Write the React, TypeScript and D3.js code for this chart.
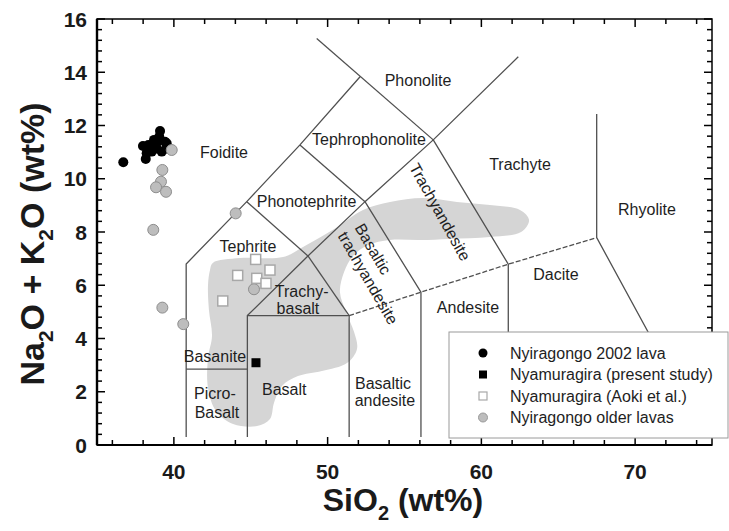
import React, { useEffect, useRef } from 'react';
import * as d3 from 'd3';

type Pt = [number, number];

// TAS field boundaries [SiO2, Na2O+K2O]
const solidLines: Pt[][] = [
  [[40.8, 0.3], [40.8, 6.8], [44.74, 9.14], [48.2, 11.27], [52.11, 13.83]],
  [[49.29, 15.27], [56.87, 11.46]],
  [[40.8, 2.85], [44.78, 2.85]],
  [[44.78, 0.3], [44.78, 4.86], [48.72, 7.1], [52.43, 9.14], [56.87, 11.46], [62.4, 14.58]],
  [[44.78, 4.86], [51.4, 4.86], [51.4, 0.3]],
  [[48.72, 7.1], [51.4, 4.86]],
  [[44.74, 9.14], [48.72, 7.1]],
  [[48.2, 11.27], [52.43, 9.14]],
  [[52.43, 9.14], [56.07, 5.74], [56.07, 0.3]],
  [[56.87, 11.46], [61.75, 6.79], [61.75, 0.3]],
  [[67.5, 12.43], [67.5, 7.79], [74.56, 0.3]],
];
const dashedLine: Pt[] = [[51.4, 4.86], [56.07, 5.74], [61.75, 6.79], [67.5, 7.79]];

// grey field outline
const greyField: Pt[] = [
  [42.53, 6.84], [44.3, 7.02], [47.1, 7.06], [48.4, 7.44], [50.35, 8.08], [52.3, 8.83],
  [54.06, 9.13], [56.2, 9.28], [58.41, 9.13], [60.56, 9.01], [62.51, 8.83], [63.1, 8.45],
  [62.58, 8.0], [60.56, 7.81], [57.96, 7.74], [56.01, 7.7], [54.06, 7.7], [52.63, 7.51],
  [51.65, 7.1], [51.07, 6.5], [50.8, 5.75], [51.2, 5.0], [51.72, 4.24], [51.91, 3.61],
  [51.26, 3.08], [49.63, 2.78], [48.07, 2.59], [47.03, 2.22], [46.51, 1.58], [46.25, 0.98],
  [45.41, 0.71], [43.85, 0.79], [42.74, 1.28], [42.22, 2.14], [42.22, 3.27], [42.48, 4.09],
  [42.28, 5.07], [42.22, 6.01], [42.35, 6.57],
];

// field names: [text, SiO2, alkali, rotation]
const fieldLabels: [string, number, number, number][] = [
  ['Foidite', 43.26, 10.98, 0],
  ['Phonolite', 55.88, 13.68, 0],
  ['Tephrophonolite', 52.69, 11.46, 0],
  ['Phonotephrite', 48.63, 9.16, 0],
  ['Tephrite', 44.82, 7.44, 0],
  ['Trachyandesite', 57.31, 8.75, 61],
  ['Basaltic', 52.95, 7.36, 60],
  ['trachyandesite', 52.63, 6.27, 60],
  ['Trachyte', 62.51, 10.55, 0],
  ['Dacite', 64.85, 6.42, 0],
  ['Andesite', 59.13, 5.18, 0],
  ['Rhyolite', 70.77, 8.86, 0],
  ['Trachy-', 48.31, 5.76, 0],
  ['basalt', 48.07, 5.11, 0],
  ['Basanite', 42.67, 3.32, 0],
  ['Picro-', 42.67, 1.94, 0],
  ['Basalt', 42.8, 1.23, 0],
  ['Basalt', 47.18, 2.07, 0],
  ['Basaltic', 53.6, 2.32, 0],
  ['andesite', 53.73, 1.66, 0],
];

const nyiragongo2002: Pt[] = [
  [36.71, 10.62], [38.17, 10.74], [38.23, 10.96], [37.99, 11.23], [38.34, 11.27],
  [38.71, 11.46], [39.05, 11.58], [39.1, 11.79], [39.42, 11.39], [38.88, 11.14],
  [39.53, 11.14], [38.56, 11.02], [39.21, 11.02], [38.88, 11.35], [39.53, 11.33],
];
const nyamuragiraPresent: Pt[] = [[45.34, 3.09]];
const nyamuragiraAoki: Pt[] = [
  [45.32, 6.97], [44.15, 6.37], [46.25, 6.57], [45.39, 6.26], [45.99, 6.07], [43.18, 5.41],
];
const nyiragongoOlder: Pt[] = [
  [39.86, 11.08], [39.25, 10.33], [39.16, 9.89], [38.84, 9.68], [39.49, 9.51], [38.66, 8.08],
  [44.02, 8.7], [39.25, 5.16], [40.61, 4.54], [45.21, 5.85],
];

const legendNames = [
  'Nyiragongo 2002 lava',
  'Nyamuragira (present study)',
  'Nyamuragira (Aoki et al.)',
  'Nyiragongo older lavas',
];

const xTickLabels = [40, 50, 60, 70];
const yTickLabels = [0, 2, 4, 6, 8, 10, 12, 14, 16];

const FONT = "'Liberation Sans', Arial, sans-serif";

function TasChart({ width = 729, height = 531 }: { width?: number; height?: number }) {
  const svgRef = useRef<SVGSVGElement>(null);

  useEffect(() => {
    if (!svgRef.current) return;
    const svg = d3.select(svgRef.current);
    svg.selectAll('*').remove();

    const x = d3.scaleLinear().domain([35, 75]).range([97, 712]);
    const y = d3.scaleLinear().domain([0, 16]).range([445, 19]);
    const line = d3.line<Pt>().x(d => x(d[0])).y(d => y(d[1]));

    svg.append('rect').attr('width', width).attr('height', height).attr('fill', '#fff');

    // grey field
    svg.append('path')
      .datum(greyField)
      .attr('d', d3.line<Pt>().x(d => x(d[0])).y(d => y(d[1])).curve(d3.curveCatmullRomClosed.alpha(0.5)))
      .attr('fill', '#d5d5d5')
      .attr('stroke', 'none');

    // boundaries
    svg.append('g').selectAll('path')
      .data(solidLines)
      .enter().append('path')
      .attr('d', line)
      .attr('fill', 'none')
      .attr('stroke', '#505050')
      .attr('stroke-width', 1.3);

    svg.append('path')
      .datum(dashedLine)
      .attr('d', line)
      .attr('fill', 'none')
      .attr('stroke', '#505050')
      .attr('stroke-width', 1.3)
      .attr('stroke-dasharray', '5,2');

    // field names
    svg.append('g').selectAll('text')
      .data(fieldLabels)
      .enter().append('text')
      .attr('transform', d => `translate(${x(d[1])},${y(d[2])}) rotate(${d[3]})`)
      .attr('text-anchor', 'middle')
      .attr('dominant-baseline', 'central')
      .style('font-family', FONT)
      .style('font-size', '16px')
      .style('fill', '#1e1e1e')
      .text(d => d[0]);

    // samples
    svg.append('g').selectAll('circle')
      .data(nyiragongo2002)
      .enter().append('circle')
      .attr('cx', d => x(d[0])).attr('cy', d => y(d[1])).attr('r', 5)
      .attr('fill', '#000');

    svg.append('g').selectAll('circle')
      .data(nyiragongoOlder)
      .enter().append('circle')
      .attr('cx', d => x(d[0])).attr('cy', d => y(d[1])).attr('r', 5.5)
      .attr('fill', '#bdbdbd').attr('stroke', '#8e8e8e').attr('stroke-width', 1);

    svg.append('g').selectAll('rect')
      .data(nyamuragiraAoki)
      .enter().append('rect')
      .attr('x', d => x(d[0]) - 5).attr('y', d => y(d[1]) - 5)
      .attr('width', 10).attr('height', 10)
      .attr('fill', '#fff').attr('stroke', '#a8a8a8').attr('stroke-width', 1.5);

    svg.append('g').selectAll('rect')
      .data(nyamuragiraPresent)
      .enter().append('rect')
      .attr('x', d => x(d[0]) - 4.5).attr('y', d => y(d[1]) - 4.5)
      .attr('width', 9).attr('height', 9)
      .attr('fill', '#000');

    // frame and ticks
    const [x0, x1] = x.range();
    const [y0, y1] = y.range();
    const axis = svg.append('g').attr('stroke', '#000');
    axis.append('rect')
      .attr('x', x0).attr('y', y1).attr('width', x1 - x0).attr('height', y0 - y1)
      .attr('fill', 'none').attr('stroke-width', 1.5);
    axis.append('line').attr('x1', x0).attr('x2', x0).attr('y1', y1).attr('y2', y0).attr('stroke-width', 2.4);
    axis.append('line').attr('x1', x0).attr('x2', x1).attr('y1', y0).attr('y2', y0).attr('stroke-width', 2.2);

    const xt = d3.range(36, 75, 2);
    xt.forEach(v => {
      const len = v % 10 === 0 ? 8 : 5;
      axis.append('line').attr('x1', x(v)).attr('x2', x(v)).attr('y1', y0).attr('y2', y0 - len).attr('stroke-width', 1.5);
      axis.append('line').attr('x1', x(v)).attr('x2', x(v)).attr('y1', y1).attr('y2', y1 + len).attr('stroke-width', 1.5);
    });
    d3.range(0, 41).forEach(i => {
      const v = i * 0.4;
      const len = i % 5 === 0 ? 8 : 5;
      axis.append('line').attr('x1', x0).attr('x2', x0 + len).attr('y1', y(v)).attr('y2', y(v)).attr('stroke-width', 1.5);
      axis.append('line').attr('x1', x1).attr('x2', x1 - len).attr('y1', y(v)).attr('y2', y(v)).attr('stroke-width', 1.5);
    });

    svg.append('g').selectAll('text')
      .data(xTickLabels)
      .enter().append('text')
      .attr('x', d => x(d)).attr('y', 479)
      .attr('text-anchor', 'middle')
      .style('font-family', FONT).style('font-size', '21px').style('font-weight', 'bold').style('fill', '#1a1a1a')
      .text(d => d);

    svg.append('g').selectAll('text')
      .data(yTickLabels)
      .enter().append('text')
      .attr('x', 87).attr('y', d => y(d))
      .attr('text-anchor', 'end').attr('dominant-baseline', 'central')
      .style('font-family', FONT).style('font-size', '21px').style('font-weight', 'bold').style('fill', '#1a1a1a')
      .text(d => d);

    // axis titles
    const xTitle = svg.append('text')
      .attr('x', 403).attr('y', 511)
      .attr('text-anchor', 'middle')
      .style('font-family', FONT).style('font-size', '32px').style('font-weight', 'bold').style('fill', '#1a1a1a');
    xTitle.append('tspan').text('SiO');
    xTitle.append('tspan').attr('dy', 9).style('font-size', '20px').text('2');
    xTitle.append('tspan').attr('dy', -9).text(' (wt%)');

    const yTitle = svg.append('text')
      .attr('transform', 'translate(44,244) rotate(-90)')
      .attr('text-anchor', 'middle')
      .style('font-family', FONT).style('font-size', '34px').style('font-weight', 'bold').style('fill', '#1a1a1a');
    yTitle.append('tspan').text('Na');
    yTitle.append('tspan').attr('dy', 9).style('font-size', '21px').text('2');
    yTitle.append('tspan').attr('dy', -9).text('O + K');
    yTitle.append('tspan').attr('dy', 9).style('font-size', '21px').text('2');
    yTitle.append('tspan').attr('dy', -9).text('O (wt%)');

    // legend
    const lg = svg.append('g').attr('transform', 'translate(449,332)');
    lg.append('rect').attr('width', 279).attr('height', 106).attr('fill', '#fff').attr('stroke', '#9a9a9a').attr('stroke-width', 1);
    const rows = legendNames.map((name, i) => ({ name, i }));
    const item = lg.selectAll('g.item').data(rows).enter().append('g')
      .attr('class', 'item')
      .attr('transform', d => `translate(34,${21 + d.i * 21.5})`);
    item.append('text')
      .attr('x', 27).attr('dominant-baseline', 'central')
      .style('font-family', FONT).style('font-size', '16px').style('fill', '#1e1e1e')
      .text(d => d.name);
    item.filter(d => d.i === 0).append('circle').attr('r', 4.5).attr('fill', '#000');
    item.filter(d => d.i === 1).append('rect').attr('x', -4).attr('y', -4).attr('width', 8).attr('height', 8).attr('fill', '#000');
    item.filter(d => d.i === 2).append('rect').attr('x', -4).attr('y', -4).attr('width', 8).attr('height', 8)
      .attr('fill', '#fff').attr('stroke', '#a8a8a8').attr('stroke-width', 1.2);
    item.filter(d => d.i === 3).append('circle').attr('r', 4.5).attr('fill', '#bdbdbd').attr('stroke', '#9a9a9a');
  }, [width, height]);

  return (
    <svg
      ref={svgRef}
      width={width}
      height={height}
      style={{ position: 'absolute', left: 0, top: 0, display: 'block' }}
    />
  );
}

export default function App() {
  return <TasChart />;
}
